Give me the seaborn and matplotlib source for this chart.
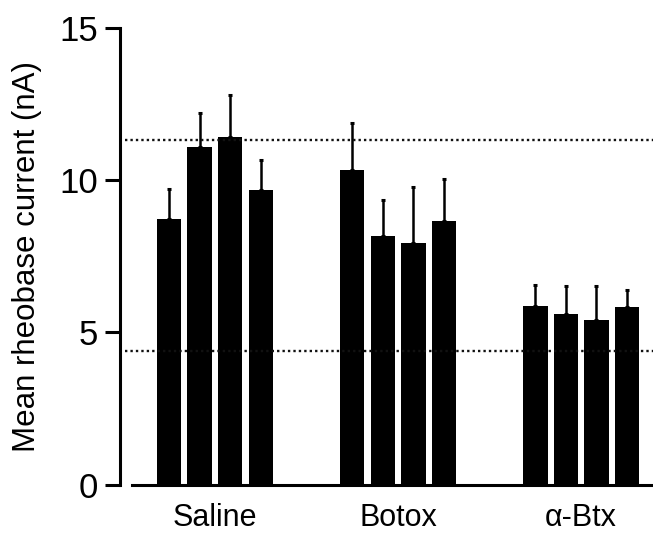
import matplotlib
matplotlib.use("Agg")
import matplotlib.pyplot as plt
import seaborn as sns
import pandas as pd
import numpy as np

groups = ["Saline", "Botox", "α-Btx"]
conditions = ["1", "2", "3", "4"]
saline_mean = [8.72, 11.10, 11.42, 9.68]
botox_mean = [10.34, 8.16, 7.93, 8.66]
abtx_mean = [5.87, 5.59, 5.41, 5.83]
saline_sem = [0.98, 1.11, 1.39, 0.99]
botox_sem = [1.53, 1.19, 1.85, 1.37]
abtx_sem = [0.70, 0.94, 1.10, 0.57]
ref_lines = [11.31, 4.39]
yticks = [0, 5, 10, 15]

rows = []
for g, means, sems in zip(groups, [saline_mean, botox_mean, abtx_mean],
                          [saline_sem, botox_sem, abtx_sem]):
    for c, m, s in zip(conditions, means, sems):
        rows.append({"group": g, "condition": c, "mean": m, "sem": s})
df = pd.DataFrame(rows)

sns.set_theme(style="white")
plt.rcParams["font.family"] = ["Liberation Sans", "DejaVu Sans"]
plt.rcParams["text.color"] = "black"
plt.rcParams["axes.labelcolor"] = "black"

fig = plt.figure(figsize=(6.53, 5.33), dpi=100)
ax = fig.add_axes([131.7 / 653, 48.5 / 533, (653 - 131.7) / 653, 456.5 / 533])

sns.barplot(data=df, x="group", y="mean", hue="condition", order=groups,
            hue_order=conditions, palette=["black"] * 4, saturation=1,
            width=0.667, gap=0.197, errorbar=None, legend=False,
            linewidth=0, ax=ax)

for cont, cond in zip(ax.containers, conditions):
    sub = df[df["condition"] == cond].set_index("group").loc[groups]
    xs = [b.get_x() + b.get_width() / 2 for b in cont]
    ys = [b.get_height() for b in cont]
    ax.errorbar(xs, ys, yerr=[np.zeros(len(xs)), sub["sem"].values],
                fmt="none", ecolor="black", elinewidth=1.8, capsize=1.7,
                capthick=2.2, zorder=3)

for yv in ref_lines:
    ax.axhline(yv, xmin=-0.0134, xmax=1, color="#111111", lw=1.7,
               ls=(0, (1, 1.3)), clip_on=False, zorder=4)

ax.set_xlim(-0.455, 2.393)
ax.set_ylim(0, 15)
ax.set_yticks(yticks)
ax.set_xlabel("")
ax.set_ylabel("Mean rheobase current (nA)", fontsize=22.5, labelpad=12,
              color="black")

for s in ["top", "right"]:
    ax.spines[s].set_visible(False)
ax.spines["left"].set_position(("outward", 8.4))
ax.spines["left"].set_bounds(0, 15)
for s in ["left", "bottom"]:
    ax.spines[s].set_linewidth(2.2)
    ax.spines[s].set_color("black")

ax.tick_params(axis="y", left=True, length=11, width=2.2, labelsize=25,
               pad=5, colors="black")
ax.tick_params(axis="x", bottom=False, length=0, labelsize=22, pad=13,
               colors="black")

fig.savefig("out.png", dpi=100)
